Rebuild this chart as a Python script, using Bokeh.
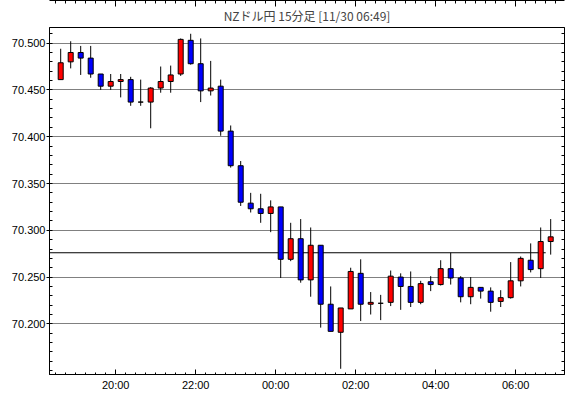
import pandas as pd
from bokeh.plotting import figure
from bokeh.models import (FixedTicker, DatetimeTickFormatter, LinearAxis, DatetimeAxis,
                          Range1d, Title, PrintfTickFormatter, ColumnDataSource)
from bokeh.embed import file_html
from bokeh.resources import INLINE

# ---------------- data ----------------
title_text = "NZドル円 15分足 [11/30 06:49]"
first_period = "2023-11-29 18:30"
n_periods = 50

opens = [70.461, 70.480, 70.490, 70.484, 70.467, 70.454, 70.459, 70.461, 70.437, 70.437,
         70.452, 70.459, 70.467, 70.503, 70.478, 70.449, 70.454, 70.406, 70.369, 70.329,
         70.323, 70.318, 70.325, 70.269, 70.291, 70.247, 70.284, 70.221, 70.191, 70.216,
         70.254, 70.221, 70.222, 70.223, 70.250, 70.240, 70.223, 70.245, 70.242, 70.259,
         70.249, 70.229, 70.239, 70.235, 70.224, 70.228, 70.246, 70.268, 70.259, 70.288]
highs = [70.494, 70.502, 70.497, 70.497, 70.467, 70.467, 70.467, 70.464, 70.461, 70.453,
         70.475, 70.476, 70.505, 70.510, 70.505, 70.481, 70.461, 70.412, 70.374, 70.340,
         70.339, 70.332, 70.325, 70.308, 70.312, 70.303, 70.284, 70.240, 70.217, 70.260,
         70.269, 70.234, 70.231, 70.257, 70.254, 70.256, 70.246, 70.251, 70.268, 70.276,
         70.251, 70.250, 70.239, 70.239, 70.236, 70.266, 70.272, 70.286, 70.303, 70.312]
lows = [70.461, 70.473, 70.466, 70.463, 70.450, 70.450, 70.442, 70.433, 70.433, 70.409,
        70.447, 70.447, 70.465, 70.477, 70.437, 70.444, 70.401, 70.367, 70.326, 70.319,
        70.308, 70.298, 70.249, 70.267, 70.244, 70.229, 70.196, 70.192, 70.152, 70.216,
        70.203, 70.210, 70.204, 70.219, 70.215, 70.218, 70.221, 70.235, 70.241, 70.242,
        70.223, 70.221, 70.227, 70.213, 70.218, 70.227, 70.240, 70.255, 70.249, 70.274]
closes = [70.479, 70.490, 70.484, 70.467, 70.454, 70.459, 70.461, 70.437, 70.437, 70.452,
          70.459, 70.466, 70.504, 70.478, 70.449, 70.452, 70.406, 70.369, 70.330, 70.323,
          70.318, 70.325, 70.269, 70.291, 70.247, 70.284, 70.221, 70.192, 70.217, 70.256,
          70.221, 70.223, 70.222, 70.251, 70.240, 70.223, 70.243, 70.242, 70.259, 70.249,
          70.229, 70.239, 70.235, 70.223, 70.228, 70.246, 70.270, 70.258, 70.288, 70.293]

ref_price = 70.276
ref_line_end = "2023-11-30 06:45"

y_tick_values = [70.200, 70.250, 70.300, 70.350, 70.400, 70.450, 70.500]
x_tick_times = ["2023-11-29 20:00", "2023-11-29 22:00", "2023-11-30 00:00",
                "2023-11-30 02:00", "2023-11-30 04:00", "2023-11-30 06:00"]
x_view = ("2023-11-29 18:20:42", "2023-11-30 07:13:12")
y_view = (70.1459, 70.5167)

UP_COLOR = "#ff0000"
DOWN_COLOR = "#0000ff"

# ---------------- helpers ----------------
def ms(t):
    return pd.Timestamp(t).value / 1e6

starts = pd.date_range(first_period, periods=n_periods, freq="15min")
mids = [ms(s + pd.Timedelta(minutes=7.5)) for s in starts]
tops = [max(o, c) for o, c in zip(opens, closes)]
bots = [min(o, c) for o, c in zip(opens, closes)]
colors = [UP_COLOR if c >= o else DOWN_COLOR for o, c in zip(opens, closes)]

src = ColumnDataSource(dict(x=mids, high=highs, low=lows, top=tops, bottom=bots, color=colors))

p = figure(width=569, height=397, output_backend="svg", toolbar_location=None,
           x_axis_type="datetime",
           x_range=Range1d(ms(x_view[0]), ms(x_view[1])),
           y_range=Range1d(*y_view),
           min_border_left=49, min_border_right=5, min_border_top=25, min_border_bottom=23)
p.background_fill_color = "white"
p.border_fill_color = "white"
p.outline_line_color = "black"
p.outline_line_width = 1

p.add_layout(Title(text=title_text, align="center", text_font="Noto Sans CJK JP",
                   text_font_size="12px", text_font_style="normal", standoff=8), "above")

# tickers
x_major = [ms(t) for t in x_tick_times]
x_minor = [ms(t) for t in pd.date_range("2023-11-29 18:30", "2023-11-30 07:00", freq="15min")]
x_ticker = FixedTicker(ticks=x_major, minor_ticks=x_minor)
y_minor = [round(70.15 + 0.01 * i, 2) for i in range(37)]
y_ticker = FixedTicker(ticks=y_tick_values, minor_ticks=y_minor)

fmt = DatetimeTickFormatter(minutes="%H:%M", hourmin="%H:%M", hours="%H:%M",
                            days="%H:%M", months="%H:%M", years="%H:%M")

xa = p.xaxis[0]
xa.ticker = x_ticker
xa.formatter = fmt
xa.major_tick_in = 5
xa.major_tick_out = 0
xa.minor_tick_in = 2
xa.minor_tick_out = 0
xa.major_label_standoff = 4
xa.major_label_text_font = "Liberation Sans"
xa.major_label_text_font_size = "11px"
xa.major_label_text_color = "black"
xa.axis_line_color = "black"
xa.major_tick_line_color = "black"
xa.minor_tick_line_color = "black"

ya = p.yaxis[0]
ya.ticker = y_ticker
ya.formatter = PrintfTickFormatter(format="%.3f")
ya.major_tick_in = 0
ya.major_tick_out = 3
ya.minor_tick_in = 3
ya.minor_tick_out = 0
ya.major_label_standoff = 1
ya.major_label_text_font = "Liberation Sans"
ya.major_label_text_font_size = "11px"
ya.major_label_text_color = "black"
ya.axis_line_color = "black"
ya.major_tick_line_color = "black"
ya.minor_tick_line_color = "black"

top_axis = DatetimeAxis(ticker=x_ticker, formatter=fmt, major_tick_in=6, major_tick_out=0,
                        minor_tick_in=3, minor_tick_out=0, major_label_standoff=0,
                        major_label_text_font_size="0px", major_label_text_color=None,
                        axis_line_color="black",
                        major_tick_line_color="black", minor_tick_line_color="black")
p.add_layout(top_axis, "above")

right_axis = LinearAxis(ticker=y_ticker, major_tick_in=3, major_tick_out=0,
                        minor_tick_in=3, minor_tick_out=0, major_label_standoff=0,
                        major_label_text_font_size="0px", major_label_text_color=None,
                        axis_line_color="black",
                        major_tick_line_color="black", minor_tick_line_color="black")
p.add_layout(right_axis, "right")

p.xgrid.visible = False
p.ygrid.ticker = y_ticker
p.ygrid.grid_line_color = "black"
p.ygrid.grid_line_dash = "1 1"
p.ygrid.grid_line_width = 1

# reference line
p.line(x=[ms(x_view[0]), ms(ref_line_end)], y=[ref_price, ref_price], line_color="black", line_width=1)

# candles
p.segment(x0="x", y0="low", x1="x", y1="high", source=src, line_color="black", line_width=1)
p.vbar(x="x", width=15 * 60 * 1000 * 0.5, top="top", bottom="bottom", source=src,
       fill_color="color", line_color="black", line_width=1)

open("out.html", "w").write(file_html(p, INLINE))
